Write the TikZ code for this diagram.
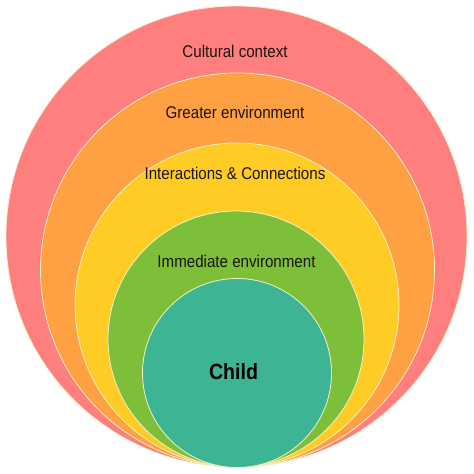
\documentclass[tikz,border=0pt]{standalone}
\usepackage{fontspec}
\newfontfamily\labfont[FakeStretch=0.89]{Liberation Sans}
\definecolor{cRed}{HTML}{FF7E7E}
\definecolor{cOrange}{HTML}{FFA043}
\definecolor{cYellow}{HTML}{FECC24}
\definecolor{cGreen}{HTML}{7EBF3A}
\definecolor{cTeal}{HTML}{3DB594}
\definecolor{cRim}{HTML}{F7EFC9}
\definecolor{cText}{HTML}{1C1410}
\begin{document}
\begin{tikzpicture}[x=1bp,y=-1bp,
  ring/.style={circle, draw=cRim, line width=0.8bp, inner sep=0pt},
  lab/.style={font=\labfont\fontsize{17bp}{20bp}\selectfont, text=cText, inner sep=0pt},
  core/.style={font=\labfont\bfseries\fontsize{22bp}{26bp}\selectfont, text=black, inner sep=0pt}]
\useasboundingbox (0,0) rectangle (474,474);
\fill[white] (0,0) rectangle (474,474);
\node[ring, fill=cRed, minimum size=461bp] (red) at (236.5,236.5) {};
\node[ring, fill=cOrange, minimum size=394bp] (orange) at (237.5,270) {};
\node[ring, fill=cYellow, minimum size=324bp] (yellow) at (237,305) {};
\node[ring, fill=cGreen, minimum size=256bp] (green) at (236,339) {};
\node[ring, fill=cTeal, minimum size=189bp] (teal) at (237,373) {};
\node[lab] (t1) at (235,51.5) {Cultural context};
\node[lab] (t2) at (235,112.5) {Greater environment};
\node[lab] (t3) at (235,173) {Interactions \& Connections};
\node[lab] (t4) at (236.5,261) {Immediate environment};
\node[core] (t5) at (233.5,371.5) {Child};
\end{tikzpicture}
\end{document}
